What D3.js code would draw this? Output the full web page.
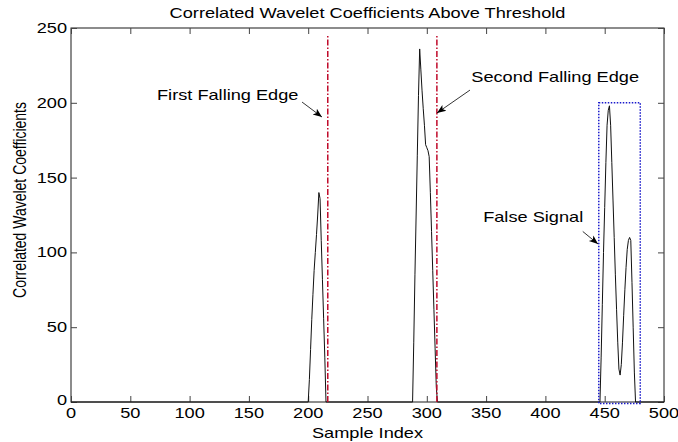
<!DOCTYPE html>
<html><head><meta charset="utf-8">
<script src="https://cdn.jsdelivr.net/npm/d3@7"></script>
<style>
body{margin:0;background:#fff;}
text{font-family:Arial,"Liberation Sans",Helvetica,sans-serif;fill:#000;}
</style>
</head><body>
<svg id="chart" width="678" height="442"></svg>
<script>
// ---- data ----
const chartTitle = "Correlated Wavelet Coefficients Above Threshold";
const xLabel = "Sample Index";
const yLabel = "Correlated Wavelet Coefficients";
const xTicks = [0,50,100,150,200,250,300,350,400,450,500];
const yTicks = [0,50,100,150,200,250];

const sampleIndex = [0,
  200,201,202,203,204,205,206,207,208,209,210,211,212,213,214,215,
  288,289,290,291,292,293,294,295,296,297,298,299,300,301,302,303,304,305,306,307,308,309,
  446,447,448,449,450,451,452,453,454,455,456,457,458,459,460,461,462,463,464,465,466,467,468,469,470,471,472,473,474,475,476,
  500];
const coefficient = [0,
  0,15,35,55,72,88,100,112,125,140,136,108,82,56,30,0,
  0,40,85,125,165,205,236,222,208,196,185,172,170,168,164,140,114,88,62,36,10,0,
  0,30,65,100,130,160,185,195,198,185,160,135,110,85,62,40,22,18,25,40,58,75,90,102,108,110,108,80,50,20,0,
  0];

const edgeSamples = [216.5, 308.5];
const edgeTop = 245;
const boxSamples = [445, 480];
const boxValues = [-1, 200];

const annoText = ["First Falling Edge", "Second Falling Edge", "False Signal"];
const annoTextX = [72.5, 337.5, 347.5];
const annoTextY = [202, 214, 120];
const arrowFromX = [194.8, 336.4, 431.5];
const arrowFromY = [200.5, 208.5, 114];
const arrowToX = [211.6, 308.6, 444.4];
const arrowToY = [190.5, 193.2, 105.6];

// ---- layout ----
const svg = d3.select("#chart");
const L = 71, R = 664, T = 28, B = 402;
const SX = 1.3, FS = 14;
const x = d3.scaleLinear().domain([0,500]).range([L,R]);
const y = d3.scaleLinear().domain([0,250]).range([B,T]);

function txt(str, px, py, anchor, rot){
  const g = svg.append("g").attr("transform", `translate(${px},${py}) scale(${SX},1)` + (rot ? ` rotate(${rot})` : ""));
  g.append("text").attr("text-anchor", anchor).attr("font-size", FS).text(str);
}

svg.append("defs").append("marker")
  .attr("id","arr").attr("viewBox","0 0 10 10").attr("refX",10).attr("refY",5)
  .attr("markerWidth",9).attr("markerHeight",9).attr("markerUnits","userSpaceOnUse")
  .attr("orient","auto")
  .append("path").attr("d","M0,1 L10,5 L0,9 L2.5,5 Z").attr("fill","#000");

// box
svg.append("rect").attr("x",L).attr("y",T).attr("width",R-L).attr("height",B-T)
  .attr("fill","none").attr("stroke","#1a1a1a").attr("stroke-width",1);

// axes with mirrored ticks
const tl = 6;
const axB = svg.append("g").attr("transform",`translate(0,${B})`)
  .call(d3.axisBottom(x).tickValues(xTicks).tickSize(-tl).tickFormat(""));
const axT = svg.append("g").attr("transform",`translate(0,${T})`)
  .call(d3.axisTop(x).tickValues(xTicks).tickSize(-tl).tickFormat(""));
const axL = svg.append("g").attr("transform",`translate(${L},0)`)
  .call(d3.axisLeft(y).tickValues(yTicks).tickSize(-tl).tickFormat(""));
const axR = svg.append("g").attr("transform",`translate(${R},0)`)
  .call(d3.axisRight(y).tickValues(yTicks).tickSize(-tl).tickFormat(""));
[axB,axT,axL,axR].forEach(a=>{a.select(".domain").remove(); a.selectAll("line").attr("stroke","#444");});

// tick labels
xTicks.forEach(v=>txt(String(v), x(v), 418, "middle"));
yTicks.forEach(v=>txt(String(v), L-4, v===0 ? y(v)+3 : y(v)+5, "end"));

// labels
txt(chartTitle, (L+R)/2, 18, "middle");
txt(xLabel, (L+R)/2, 438, "middle");
txt(yLabel, 26, 200, "middle", -90);

// data line
const line = d3.line().x((d,i)=>x(sampleIndex[i])).y((d,i)=>y(coefficient[i]));
svg.append("path").datum(coefficient).attr("d",line)
  .attr("fill","none").attr("stroke","#111").attr("stroke-width",1);

// edges
edgeSamples.forEach(s=>{
  svg.append("line").attr("x1",x(s)).attr("x2",x(s)).attr("y1",y(0)).attr("y2",y(edgeTop))
    .attr("stroke","#c00a2a").attr("stroke-width",1.5).attr("stroke-dasharray","6,2,1.5,2");
});

// false-signal box
svg.append("rect").attr("x",x(boxSamples[0])).attr("y",y(boxValues[1]))
  .attr("width",x(boxSamples[1])-x(boxSamples[0])).attr("height",y(boxValues[0])-y(boxValues[1]))
  .attr("fill","none").attr("stroke","#1a1acc").attr("stroke-width",1.5).attr("stroke-dasharray","1.5,1.5");

// annotations
annoText.forEach((t,i)=>{
  txt(t, x(annoTextX[i]), y(annoTextY[i]), "start");
  svg.append("line").attr("x1",x(arrowFromX[i])).attr("y1",y(arrowFromY[i]))
    .attr("x2",x(arrowToX[i])).attr("y2",y(arrowToY[i]))
    .attr("stroke","#000").attr("stroke-width",0.8).attr("marker-end","url(#arr)");
});
</script>
</body></html>
